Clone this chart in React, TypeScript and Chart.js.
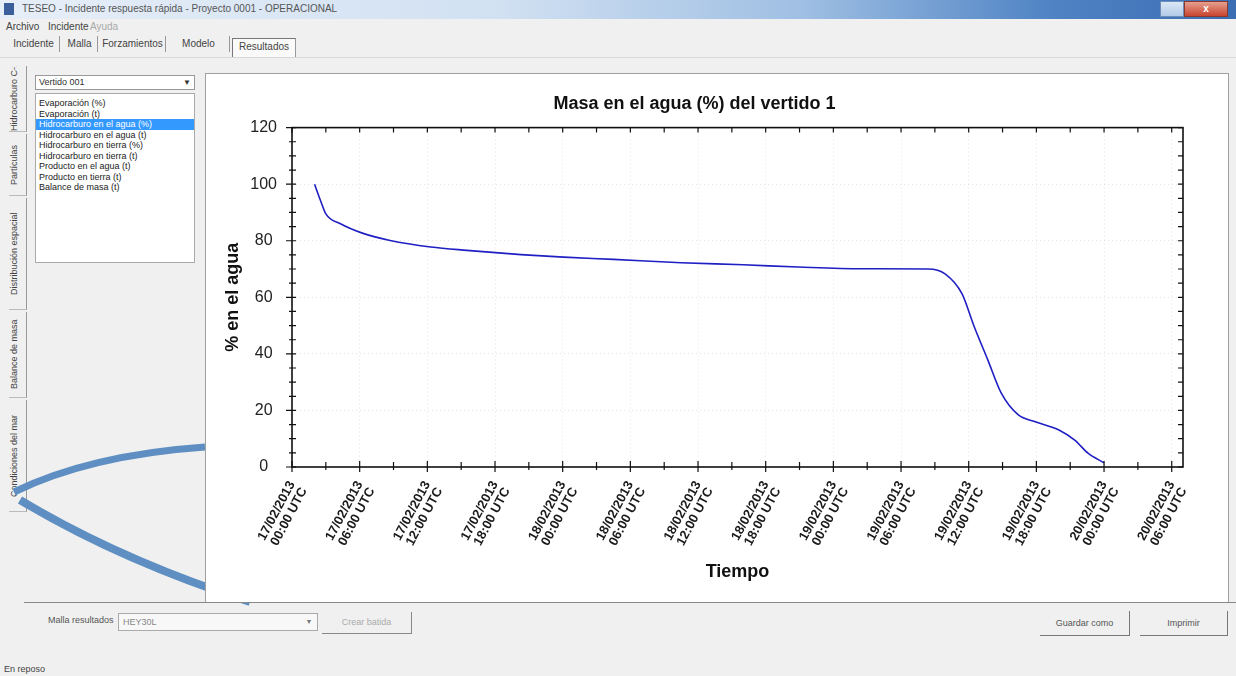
import React, { useEffect, useRef } from 'react';
import { Chart, registerables } from 'chart.js';

Chart.register(...registerables);

// ---- data ----
const hours = [2.0, 2.5, 3.0, 4.3, 6.3, 8.7, 12.3, 15.5, 20.3, 24.1, 28.5, 34.5, 40.0, 44.9, 50.5, 56.4, 57.9, 59.4, 60.5, 61.7, 62.9, 64.4, 65.9, 68.0, 69.4, 70.6, 72.0];
const massInWater = [100, 94.5, 89.5, 86.0, 82.6, 80.1, 77.8, 76.6, 75.1, 74.2, 73.4, 72.2, 71.5, 70.7, 70.1, 70.0, 68.3, 61.3, 49.5, 37.8, 26.0, 18.4, 16.0, 13.1, 9.5, 4.8, 1.5];
const labelHours = [0, 6, 12, 18, 24, 30, 36, 42, 48, 54, 60, 66, 72, 78];
const labelDates = ['17/02/2013', '17/02/2013', '17/02/2013', '17/02/2013', '18/02/2013', '18/02/2013', '18/02/2013', '18/02/2013', '19/02/2013', '19/02/2013', '19/02/2013', '19/02/2013', '20/02/2013', '20/02/2013'];
const labelTimes = ['00:00 UTC', '06:00 UTC', '12:00 UTC', '18:00 UTC', '00:00 UTC', '06:00 UTC', '12:00 UTC', '18:00 UTC', '00:00 UTC', '06:00 UTC', '12:00 UTC', '18:00 UTC', '00:00 UTC', '06:00 UTC'];
const yTicks = [0, 20, 40, 60, 80, 100, 120];

const menuItems = ['Archivo', 'Incidente', 'Ayuda'];
const topTabs = ['Incidente', 'Malla', 'Forzamientos', 'Modelo', 'Resultados'];
const sideTabs = ['Hidrocarburo C-1', 'Partículas', 'Distribución espacial', 'Balance de masa', 'Condiciones del mar'];
const listItems = ['Evaporación (%)', 'Evaporación (t)', 'Hidrocarburo en el agua (%)', 'Hidrocarburo en el agua (t)', 'Hidrocarburo en tierra (%)', 'Hidrocarburo en tierra (t)', 'Producto en el agua (t)', 'Producto en tierra (t)', 'Balance de masa (t)'];

const FONT = '"Liberation Sans", Arial, sans-serif';

const framePlugin = {
  id: 'frameTicks',
  afterDraw(chart: any) {
    const { ctx, chartArea: a, scales } = chart;
    const x = scales.x;
    const y = scales.y;
    ctx.save();
    ctx.strokeStyle = '#111';
    ctx.lineWidth = 1.6;
    ctx.strokeRect(a.left, a.top, a.right - a.left, a.bottom - a.top);
    ctx.lineWidth = 1.2;
    ctx.beginPath();
    for (let h = 0; h <= x.max; h += 3) {
      const px = x.getPixelForValue(h);
      const major = h % 6 === 0;
      ctx.moveTo(px, a.bottom - (major ? 6 : 5));
      ctx.lineTo(px, a.bottom + (major ? 5 : 3));
      ctx.moveTo(px, a.top);
      ctx.lineTo(px, a.top + 5);
    }
    for (let v = 0; v <= y.max; v += 5) {
      const py = y.getPixelForValue(v);
      const major = v % 20 === 0;
      ctx.moveTo(a.left - (major ? 6 : 3), py);
      ctx.lineTo(a.left + 4, py);
      ctx.moveTo(a.right, py);
      ctx.lineTo(a.right - 5, py);
    }
    ctx.stroke();
    ctx.restore();
  },
};

function MassChart() {
  const ref = useRef<HTMLCanvasElement | null>(null);
  useEffect(() => {
    if (!ref.current) return;
    const chart = new Chart(ref.current, {
      type: 'line',
      data: {
        datasets: [
          {
            label: 'Masa en el agua',
            data: hours.map((h, i) => ({ x: h, y: massInWater[i] })),
            borderColor: '#1f1fc4',
            borderWidth: 1.6,
            pointRadius: 0,
            fill: false,
            tension: 0.4,
            cubicInterpolationMode: 'monotone',
          },
        ],
      },
      options: {
        animation: false,
        responsive: false,
        maintainAspectRatio: false,
        layout: { padding: { left: 0, right: 45, top: 0, bottom: 15 } },
        plugins: {
          legend: { display: false },
          tooltip: { enabled: false },
          title: {
            display: true,
            text: 'Masa en el agua (%) del vertido 1',
            color: '#111',
            font: { family: FONT, size: 18, weight: 'bold' },
            padding: { top: 19, bottom: 13 },
          },
        },
        scales: {
          x: {
            type: 'linear',
            min: 0,
            max: 79,
            afterFit(s: any) { s.height = 120; },
            afterBuildTicks(s: any) { s.ticks = labelHours.map((v) => ({ value: v })); },
            grid: { color: 'rgba(0,0,0,0.10)', drawTicks: false, lineWidth: 1 },
            border: { display: false, dash: [1, 3] },
            ticks: {
              autoSkip: false,
              minRotation: 62,
              maxRotation: 62,
              padding: 12,
              color: '#1a1a1a',
              font: { family: FONT, size: 13, weight: 'bold', lineHeight: 1.05 },
              callback: (_v: any, i: number) => [labelDates[i], labelTimes[i]],
            },
            title: {
              display: true,
              text: 'Tiempo',
              color: '#111',
              font: { family: FONT, size: 18, weight: 'bold' },
              padding: { top: 0, bottom: 4 },
            },
          },
          y: {
            min: 0,
            max: 120,
            afterFit(s: any) { s.width = 86; },
            afterBuildTicks(s: any) { s.ticks = yTicks.map((v) => ({ value: v })); },
            grid: { color: 'rgba(0,0,0,0.10)', drawTicks: false, lineWidth: 1 },
            border: { display: false, dash: [1, 3] },
            ticks: {
              padding: 15,
              crossAlign: 'center',
              color: '#222',
              font: { family: FONT, size: 16 },
            },
            title: {
              display: true,
              text: '% en el agua',
              color: '#111',
              font: { family: FONT, size: 18, weight: 'bold' },
              padding: { top: 16, bottom: 0 },
            },
          },
        },
      },
      plugins: [framePlugin],
    } as any);
    return () => chart.destroy();
  }, []);
  return <canvas ref={ref} width={1022} height={528} style={{ display: 'block' }} />;
}

const abs = (l: number, t: number, w: number, h: number, extra: React.CSSProperties = {}): React.CSSProperties => ({
  position: 'absolute', left: l, top: t, width: w, height: h, ...extra,
});

export default function App() {
  useEffect(() => {
    document.body.style.margin = '0';
  }, []);
  const tabX = [8, 62, 100, 168, 232];
  const tabW = [52, 36, 66, 62, 64];
  const sideY = [66, 134, 198, 312, 400];
  const sideH = [66, 62, 112, 86, 112];
  return (
    <div style={{ position: 'relative', width: 1236, height: 676, background: '#f0f0f0', overflow: 'hidden', fontFamily: FONT, fontSize: 10, color: '#333' }}>
      {/* title bar */}
      <div style={abs(0, 0, 1236, 19, { background: 'linear-gradient(to right, #e6eef8 0%, #d2e1f2 40%, #9fbfe3 65%, #4f83c4 85%, #3b6db3 100%)' })} />
      <div style={abs(4, 3, 10, 12, { background: '#3a5f9a' })} />
      <div style={abs(22, 3, 400, 14, { fontSize: 10, color: '#555', whiteSpace: 'nowrap' })}>TESEO - Incidente respuesta rápida - Proyecto 0001 - OPERACIONAL</div>
      <div style={abs(1160, 1, 24, 16, { background: 'linear-gradient(#dbe7f5,#b3cbe8)', border: '1px solid #6e8db9', boxSizing: 'border-box' })} />
      <div style={abs(1184, 1, 44, 16, { background: 'linear-gradient(#e6a08f,#c8452f)', border: '1px solid #8b3a2c', boxSizing: 'border-box', color: '#fff', fontSize: 10, textAlign: 'center', lineHeight: '14px', fontWeight: 'bold' })}>x</div>
      {/* menu */}
      {menuItems.map((m, i) => (
        <div key={m} style={abs(6 + i * 42, 21, 40, 12, { color: i === 2 ? '#aaa' : '#444' })}>{m}</div>
      ))}
      {/* top tabs */}
      {topTabs.map((t, i) => (
        <div key={t} style={abs(tabX[i], i === 4 ? 38 : 36, tabW[i], i === 4 ? 20 : 16, {
          borderLeft: i === 4 ? '1px solid #777' : 'none',
          borderTop: i === 4 ? '1px solid #777' : 'none',
          borderRight: '1px solid #999',
          background: i === 4 ? '#fafafa' : 'transparent',
          textAlign: 'center', lineHeight: '16px', color: '#444', boxSizing: 'border-box',
        })}>{t}</div>
      ))}
      <div style={abs(0, 57, 1236, 1, { background: '#d8d8d8' })} />
      {/* side tabs */}
      {sideTabs.map((t, i) => (
        <div key={t} style={abs(9, sideY[i], 18, sideH[i], {
          borderLeft: '1px solid #999', borderTop: '1px solid #bbb', boxSizing: 'border-box',
          writingMode: 'vertical-rl', transform: 'rotate(180deg)', textAlign: 'center', fontSize: 9, color: '#444', whiteSpace: 'nowrap', overflow: 'hidden',
        })}>{t}</div>
      ))}
      {/* background arcs */}
      <svg style={abs(0, 0, 1236, 676)} width={1236} height={676}>
        <path d="M 14 492 Q 90 455 205 447" stroke="#5f8fc2" strokeWidth={7} fill="none" />
        <path d="M 20 500 Q 120 560 250 602" stroke="#5f8fc2" strokeWidth={8} fill="none" />
      </svg>
      {/* dropdown + list */}
      <div style={abs(35, 75, 160, 15, { background: '#fff', border: '1px solid #999', boxSizing: 'border-box', paddingLeft: 3, lineHeight: '13px', fontSize: 9 })}>Vertido 001</div>
      <div style={abs(180, 76, 14, 13, { textAlign: 'center', fontSize: 8, lineHeight: '13px' })}>▼</div>
      <div style={abs(35, 93, 160, 170, { background: '#fff', border: '1px solid #aaa', boxSizing: 'border-box' })}>
        {listItems.map((it, i) => (
          <div key={it} style={{ height: 10.5, lineHeight: '10.5px', fontSize: 9, paddingLeft: 3, marginTop: i === 0 ? 4 : 0, background: i === 2 ? '#3399ff' : 'transparent', color: i === 2 ? '#fff' : '#222', whiteSpace: 'nowrap', overflow: 'hidden' }}>{it}</div>
        ))}
      </div>
      {/* chart panel */}
      <div style={abs(205, 73, 1024, 530, { background: '#fff', border: '1px solid #a0a0a0', boxSizing: 'border-box' })}>
        <MassChart />
      </div>
      <div style={abs(24, 602, 1212, 1, { background: '#888' })} />
      {/* bottom controls */}
      <div style={abs(48, 615, 70, 12, { fontSize: 9, color: '#555' })}>Malla resultados</div>
      <div style={abs(118, 613, 200, 18, { background: '#f8f8f8', border: '1px solid #aaa', boxSizing: 'border-box', paddingLeft: 4, lineHeight: '16px', fontSize: 9, color: '#888' })}>HEY30L</div>
      <div style={abs(302, 614, 14, 15, { fontSize: 7, textAlign: 'center', lineHeight: '15px', color: '#777' })}>▼</div>
      <div style={abs(322, 612, 90, 22, { borderRight: '1px solid #888', borderBottom: '1px solid #888', boxSizing: 'border-box', textAlign: 'center', lineHeight: '20px', fontSize: 9, color: '#aaa' })}>Crear batida</div>
      <div style={abs(1040, 611, 90, 25, { borderRight: '1px solid #777', borderBottom: '1px solid #777', boxSizing: 'border-box', textAlign: 'center', lineHeight: '24px', fontSize: 9, color: '#555' })}>Guardar como</div>
      <div style={abs(1140, 611, 88, 25, { borderRight: '1px solid #777', borderBottom: '1px solid #777', boxSizing: 'border-box', textAlign: 'center', lineHeight: '24px', fontSize: 9, color: '#555' })}>Imprimir</div>
      <div style={abs(4, 664, 60, 12, { fontSize: 9, color: '#444' })}>En reposo</div>
    </div>
  );
}
